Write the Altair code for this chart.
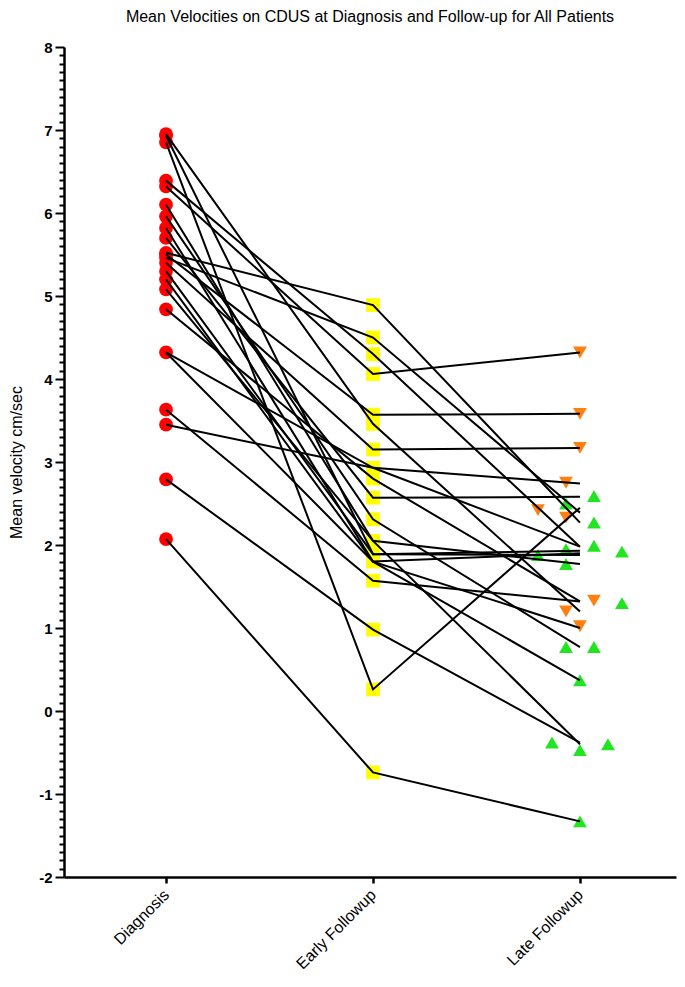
import json
import altair as alt
import pandas as pd

# ---------------- data ----------------
categories = ["Diagnosis", "Early Followup", "Late Followup"]

diagnosis_values = [6.95, 6.93, 6.85, 6.39, 6.32, 6.10, 5.96, 5.82, 5.70, 5.52,
                    5.50, 5.46, 5.40, 5.30, 5.20, 5.08, 4.84, 4.32, 3.63, 3.45,
                    2.79, 2.07]
early_values = [4.89, 4.50, 4.30, 4.06, 3.57, 3.46, 3.15, 2.93, 2.80, 2.57,
                2.31, 2.05, 1.89, 1.80, 1.57, 0.98, 0.26, -0.74]

late_down_values = [4.32, 3.58, 3.17, 2.75, 2.42, 2.33, 1.33, 1.20, 1.02]
late_down_slots = [0, 0, 0, -1, -3, -1, 1, -1, 0]
late_up_values = [2.59, 2.50, 2.27, 1.99, 1.92, 1.88, 1.95, 1.77, 1.30, 0.77,
                  0.77, 0.37, -0.38, -0.47, -0.40, -1.33]
late_up_slots = [1, -1, 1, 1, 3, -3, -1, -1, 3, -1, 1, 0, -2, 0, 2, 0]

patient_diagnosis = [6.95, 6.93, 6.85, 6.39, 6.32, 6.10, 5.96, 5.82, 5.70, 5.52,
                     5.50, 5.46, 5.40, 5.30, 5.20, 5.08, 4.84, 4.32, 4.32, 3.63,
                     3.45, 2.79, 2.07]
patient_early = [3.46, 1.89, 0.26, 4.30, 4.06, 2.05, 2.31, 1.80, 2.57, 4.89,
                 3.57, 4.50, 3.15, 1.89, 1.80, 2.05, 2.80, 2.93, 1.80, 1.57,
                 2.93, 0.98, -0.74]
patient_late = [1.20, 1.93, 2.45, 1.98, 4.32, 1.77, 0.77, 1.90, 2.58, 2.27,
                3.58, 2.39, 3.17, 1.88, 1.00, -0.40, 1.32, 2.74, 0.37, 1.32,
                1.98, -0.38, -1.33]

groups = ["Diagnosis", "Early", "Late down", "Late up"]
group_shapes = ["circle", "square", "triangle-down", "triangle-up"]
group_colors = ["#ff0000", "#ffff00", "#ff7f0f", "#22e522"]

SLOT = 0.0676  # jitter step in category units

# ---------------- tables ----------------
rows = []
for v in diagnosis_values:
    rows.append({"x": 0.0, "value": v, "group": "Diagnosis"})
for v in early_values:
    rows.append({"x": 1.0, "value": v, "group": "Early"})
for v, s in zip(late_down_values, late_down_slots):
    rows.append({"x": 2.0 + s * SLOT, "value": v, "group": "Late down"})
for v, s in zip(late_up_values, late_up_slots):
    rows.append({"x": 2.0 + s * SLOT, "value": v, "group": "Late up"})
markers = pd.DataFrame(rows)

lrows = []
for i, (d, e, l) in enumerate(zip(patient_diagnosis, patient_early, patient_late)):
    for k, v in enumerate([d, e, l]):
        lrows.append({"patient": i, "x": float(k), "value": v})
lines = pd.DataFrame(lrows)

minor_values = [round(-2 + 0.1 * i, 1) for i in range(101)]
is_int = "abs(datum.value - round(datum.value)) < 0.001"

x_scale = alt.Scale(domain=[-0.493, 2.464], nice=False, zero=False)
y_scale = alt.Scale(domain=[-2, 8], nice=False, zero=False)

x_axis = alt.Axis(
    values=[0, 1, 2],
    labelExpr=json.dumps(categories) + "[datum.value]",
    labelAngle=-45,
    labelAlign="right",
    labelBaseline="middle",
    labelFont="Liberation Sans",
    labelFontSize=16,
    labelColor="black",
    labelPadding=9,
    tickSize=6,
    tickWidth=2.5,
    tickColor="black",
    domainColor="black",
    domainWidth=2.5,
    grid=False,
    title=None,
    labelOverlap=False,
)

y_axis = alt.Axis(
    values=minor_values,
    tickCount=500,
    labelExpr=is_int + " ? ('' + round(datum.value)) : ''",
    labelFont="Liberation Sans",
    labelFontWeight="bold",
    labelFontSize=15,
    labelColor="black",
    labelPadding=3,
    labelOverlap=False,
    tickSize={"condition": {"test": is_int, "value": 9}, "value": 5},
    tickWidth=2,
    tickColor="black",
    domainColor="black",
    domainWidth=2.5,
    grid=False,
    title="Mean velocity cm/sec",
    titleFont="Liberation Sans",
    titleFontSize=16,
    titleFontWeight="normal",
    titleColor="black",
    titleX=-40,
    titleY=415,
)

pts = alt.Chart(markers).mark_point(filled=True, opacity=1, size=190).encode(
    x=alt.X("x:Q", scale=x_scale, axis=x_axis),
    y=alt.Y("value:Q", scale=y_scale, axis=y_axis),
    shape=alt.Shape("group:N", scale=alt.Scale(domain=groups, range=group_shapes), legend=None),
    color=alt.Color("group:N", scale=alt.Scale(domain=groups, range=group_colors), legend=None),
)

lns = alt.Chart(lines).mark_line(color="black", strokeWidth=2).encode(
    x=alt.X("x:Q", scale=x_scale),
    y=alt.Y("value:Q", scale=y_scale),
    detail="patient:N",
    order="x:Q",
)

chart = alt.layer(pts, lns).properties(
    width=612,
    height=830,
    autosize=alt.AutoSizeParams(type="none"),
    padding={"left": 56, "top": 39, "right": 1, "bottom": 100},
    title=alt.TitleParams(
        text="Mean Velocities on CDUS at Diagnosis and Follow-up for All Patients",
        anchor="middle",
        font="Liberation Sans",
        fontSize=16,
        fontWeight="normal",
        color="black",
        offset=15,
    ),
).configure_view(stroke=None)

chart.save("out.html", embed_options={"renderer": "svg", "actions": False})
